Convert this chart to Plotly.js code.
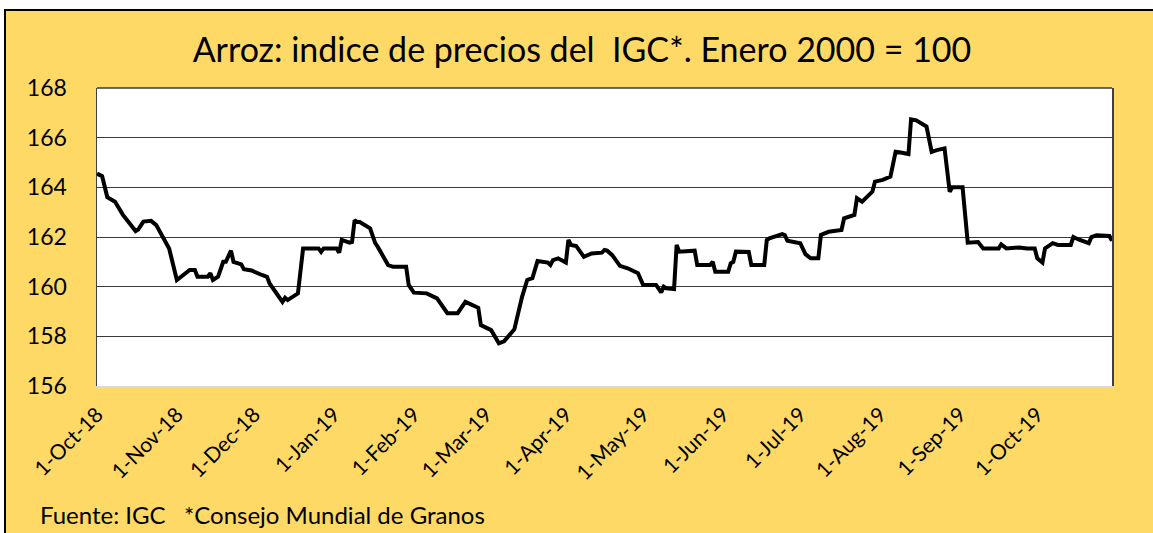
<!DOCTYPE html>
<html>
<head>
<meta charset="utf-8">
<script src="https://cdn.plot.ly/plotly-3.0.1.min.js"></script>
<style>
  html, body { margin: 0; padding: 0; background: #ffffff; }
  #frame { position: absolute; left: 4px; top: 9px; width: 1149px; height: 524px;
           background: #FFD966; border-top: 2px solid #000; border-left: 2px solid #000; box-sizing: border-box; }
  #chart { position: absolute; left: 0; top: 0; width: 1153px; height: 533px; }
</style>
</head>
<body>
<div id="frame"></div>
<div id="chart"></div>
<script>
const dates = [
"2018-10-01","2018-10-03","2018-10-05","2018-10-08","2018-10-11","2018-10-16","2018-10-17","2018-10-19","2018-10-22","2018-10-24",
"2018-10-29","2018-11-01","2018-11-06","2018-11-08","2018-11-09","2018-11-13","2018-11-14","2018-11-15","2018-11-17","2018-11-19",
"2018-11-20","2018-11-22","2018-11-23","2018-11-26","2018-11-27","2018-11-30","2018-12-04","2018-12-06","2018-12-07","2018-12-12",
"2018-12-13","2018-12-14","2018-12-18","2018-12-20","2018-12-26","2018-12-27","2018-12-28","2019-01-02","2019-01-03","2019-01-04",
"2019-01-07","2019-01-08","2019-01-09","2019-01-10","2019-01-11","2019-01-15","2019-01-17","2019-01-18","2019-01-22","2019-01-24",
"2019-01-29","2019-01-30","2019-02-01","2019-02-05","2019-02-06","2019-02-10","2019-02-14","2019-02-18","2019-02-21","2019-02-26",
"2019-02-27","2019-03-03","2019-03-06","2019-03-08","2019-03-12","2019-03-15","2019-03-17","2019-03-19","2019-03-21","2019-03-25",
"2019-03-26","2019-03-27","2019-03-29","2019-04-01","2019-04-02","2019-04-03","2019-04-05","2019-04-08","2019-04-11","2019-04-15",
"2019-04-16","2019-04-17","2019-04-19","2019-04-22","2019-04-25","2019-04-29","2019-05-01","2019-05-06","2019-05-08","2019-05-09",
"2019-05-10","2019-05-13","2019-05-14","2019-05-15","2019-05-21","2019-05-22","2019-05-27","2019-05-28","2019-05-29","2019-06-03",
"2019-06-04","2019-06-05","2019-06-06","2019-06-11","2019-06-12","2019-06-17","2019-06-18","2019-06-19","2019-06-24","2019-06-25",
"2019-06-26","2019-07-01","2019-07-03","2019-07-05","2019-07-08","2019-07-09","2019-07-12","2019-07-17","2019-07-18","2019-07-22",
"2019-07-23","2019-07-25","2019-07-29","2019-07-30","2019-08-02","2019-08-05","2019-08-07","2019-08-09","2019-08-12","2019-08-13",
"2019-08-15","2019-08-19","2019-08-21","2019-08-23","2019-08-26","2019-08-28","2019-08-29","2019-09-02","2019-09-04","2019-09-08",
"2019-09-10","2019-09-16","2019-09-17","2019-09-19","2019-09-24","2019-09-27","2019-09-30","2019-10-01","2019-10-03","2019-10-04",
"2019-10-07","2019-10-09","2019-10-14","2019-10-15","2019-10-17","2019-10-21","2019-10-22","2019-10-24","2019-10-29","2019-10-30"
];
const igcIndex = [
164.55,164.45,163.6,163.42,162.9,162.24,162.3,162.62,162.65,162.48,
161.54,160.27,160.67,160.67,160.4,160.4,160.54,160.27,160.4,161.0,
161.0,161.45,161.0,160.9,160.7,160.65,160.47,160.4,160.13,159.39,
159.55,159.46,159.73,161.54,161.54,161.4,161.54,161.54,161.37,161.88,
161.77,161.8,162.68,162.6,162.6,162.35,161.75,161.6,160.87,160.8,
160.8,160.07,159.76,159.76,159.73,159.53,158.93,158.93,159.39,159.15,
158.45,158.25,157.72,157.8,158.28,159.59,160.27,160.34,161.03,160.97,
160.87,161.07,161.14,160.97,161.88,161.68,161.64,161.2,161.34,161.37,
161.48,161.45,161.27,160.84,160.74,160.54,160.07,160.07,159.77,160.0,
159.93,159.9,161.68,161.41,161.45,160.87,160.87,161.0,160.6,160.6,
160.94,161.0,161.41,161.4,160.87,160.87,161.88,161.95,162.12,162.08,
161.85,161.75,161.31,161.14,161.14,162.08,162.21,162.28,162.75,162.89,
163.56,163.42,163.83,164.23,164.3,164.43,165.43,165.4,165.34,166.74,
166.7,166.45,165.43,165.5,165.57,163.82,164.0,164.0,161.77,161.8,
161.54,161.54,161.7,161.54,161.58,161.54,161.54,161.14,160.97,161.54,
161.75,161.68,161.68,162.0,161.9,161.75,162.0,162.07,162.04,161.85
];
const tickDates = ["2018-10-01","2018-11-01","2018-12-01","2019-01-01","2019-02-01","2019-03-01","2019-04-01",
                   "2019-05-01","2019-06-01","2019-07-01","2019-08-01","2019-09-01","2019-10-01"];
const tickLabels = ["1-Oct-18","1-Nov-18","1-Dec-18","1-Jan-19","1-Feb-19","1-Mar-19","1-Apr-19",
                    "1-May-19","1-Jun-19","1-Jul-19","1-Aug-19","1-Sep-19","1-Oct-19"];
const yTicks = [156,158,160,162,164,166,168];
const titleText = "Arroz: indice de precios del  IGC*. Enero 2000 = 100";
const sourceText = "Fuente: IGC   *Consejo Mundial de Granos";

const FONT = "Lato, 'Open Sans', sans-serif";

const trace = {
  x: dates, y: igcIndex, type: "scatter", mode: "lines",
  line: { color: "#000000", width: 4, shape: "linear" },
  hoverinfo: "x+y"
};

const layout = {
  width: 1153, height: 533,
  margin: { l: 97, r: 41, t: 88, b: 147, pad: 0 },
  paper_bgcolor: "rgba(0,0,0,0)",
  plot_bgcolor: "#ffffff",
  showlegend: false,
  font: { family: FONT, color: "#000000" },
  title: {
    text: titleText,
    font: { family: FONT, size: 34, color: "#000000" },
    xref: "container", yref: "container",
    x: 582 / 1153, xanchor: "center",
    y: 1 - 50 / 533, yanchor: "middle"
  },
  xaxis: {
    type: "date",
    range: ["2018-10-01", "2019-10-30"],
    tickvals: tickDates, ticktext: tickLabels,
    tickangle: -45,
    tickfont: { family: FONT, size: 21, color: "#000000" },
    showgrid: false, zeroline: false,
    showline: true, linecolor: "#d9d9d9", linewidth: 2,
    ticks: "outside", ticklen: 6, tickcolor: "rgba(0,0,0,0)"
  },
  yaxis: {
    range: [156, 168],
    tickvals: yTicks,
    tickfont: { family: FONT, size: 23, color: "#000000" },
    showgrid: true, gridcolor: "#3a3a3a", gridwidth: 1,
    zeroline: false,
    showline: true, mirror: true, linecolor: "#404040", linewidth: 1.5,
    ticks: "outside", ticklen: 24, tickcolor: "rgba(0,0,0,0)"
  },
  shapes: [
    { type: "line", xref: "paper", yref: "paper", x0: 0, x1: 1, y0: 1, y1: 1,
      line: { color: "#3a3a3a", width: 1.5 } }
  ],
  annotations: [
    { text: sourceText, xref: "paper", yref: "paper",
      x: (38 - 97) / 1015, xanchor: "left",
      y: (386 - 514) / 298, yanchor: "middle",
      showarrow: false, font: { family: FONT, size: 24, color: "#000000" } }
  ]
};

Plotly.newPlot("chart", [trace], layout, { staticPlot: true, displayModeBar: false });
</script>
</body>
</html>
